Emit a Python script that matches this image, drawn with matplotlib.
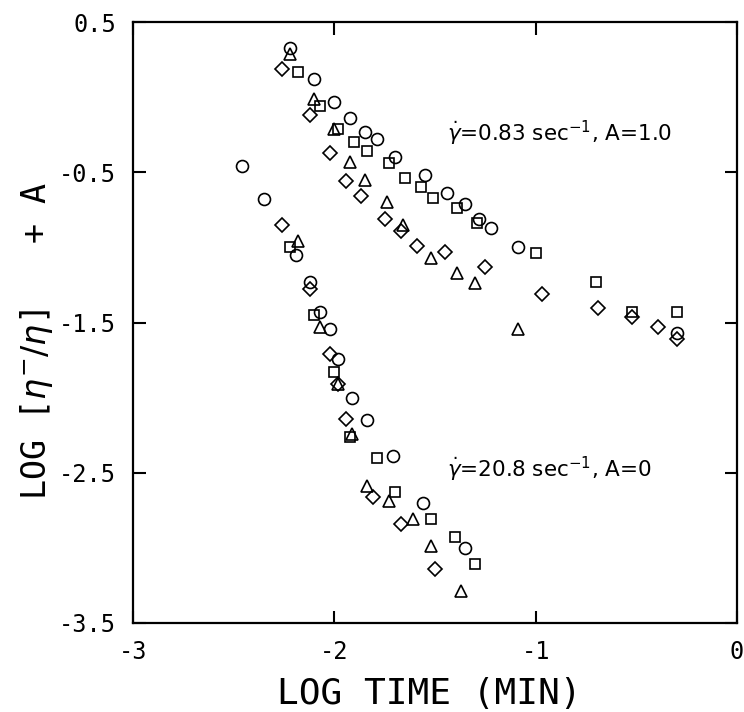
"""Stress relaxation data: LOG [eta-/eta] + A versus LOG TIME, two shear rates."""

import matplotlib

matplotlib.use("Agg")
import matplotlib.pyplot as plt

# upper set: shear rate 0.83 1/s, shifted by A = 1.0
hi_circle_x = [-2.22, -2.10, -2.00, -1.92, -1.85, -1.79, -1.70, -1.55, -1.44, -1.35, -1.28, -1.22, -1.09, -0.30]
hi_circle_y = [0.33, 0.12, -0.03, -0.14, -0.23, -0.28, -0.40, -0.52, -0.64, -0.71, -0.81, -0.87, -1.00, -1.57]
hi_square_x = [-2.18, -2.07, -1.98, -1.90, -1.84, -1.73, -1.65, -1.57, -1.51, -1.39, -1.29, -1.00, -0.70, -0.52, -0.30]
hi_square_y = [0.17, -0.06, -0.21, -0.30, -0.36, -0.44, -0.54, -0.60, -0.67, -0.74, -0.84, -1.04, -1.23, -1.43, -1.43]
hi_tri_x = [-2.22, -2.10, -2.00, -1.92, -1.85, -1.74, -1.66, -1.52, -1.39, -1.30, -1.09]
hi_tri_y = [0.29, -0.01, -0.21, -0.43, -0.55, -0.70, -0.85, -1.07, -1.17, -1.24, -1.54]
hi_dia_x = [-2.26, -2.12, -2.02, -1.94, -1.87, -1.75, -1.67, -1.59, -1.45, -1.25, -0.97, -0.69, -0.52, -0.39, -0.30]
hi_dia_y = [0.19, -0.12, -0.37, -0.56, -0.66, -0.81, -0.89, -0.99, -1.03, -1.13, -1.31, -1.40, -1.46, -1.53, -1.61]

# lower set: shear rate 20.8 1/s, A = 0
lo_circle_x = [-2.46, -2.35, -2.19, -2.12, -2.07, -2.02, -1.98, -1.91, -1.84, -1.71, -1.56, -1.35]
lo_circle_y = [-0.46, -0.68, -1.05, -1.23, -1.43, -1.54, -1.74, -2.00, -2.15, -2.39, -2.70, -3.00]
lo_square_x = [-2.22, -2.10, -2.00, -1.92, -1.79, -1.70, -1.52, -1.40, -1.30]
lo_square_y = [-1.00, -1.45, -1.83, -2.26, -2.40, -2.63, -2.81, -2.93, -3.11]
lo_tri_x = [-2.18, -2.07, -1.98, -1.91, -1.84, -1.73, -1.61, -1.52, -1.37]
lo_tri_y = [-0.96, -1.53, -1.91, -2.24, -2.59, -2.69, -2.81, -2.99, -3.29]
lo_dia_x = [-2.26, -2.12, -2.02, -1.98, -1.94, -1.81, -1.67, -1.50]
lo_dia_y = [-0.85, -1.28, -1.71, -1.91, -2.14, -2.66, -2.84, -3.14]

x_ticks = [-3, -2, -1, 0]
y_ticks = [0.5, -0.5, -1.5, -2.5, -3.5]

plt.rcParams["axes.unicode_minus"] = False
plt.rcParams["mathtext.fontset"] = "dejavusans"

fig = plt.figure(figsize=(7.44, 7.12), dpi=100)
ax = fig.add_axes([0.1788, 0.125, 0.8118, 0.844])

mk = dict(linestyle="none", markerfacecolor="none", markeredgecolor="black",
          markeredgewidth=1.2)
for xs, ys in [(hi_circle_x, hi_circle_y), (lo_circle_x, lo_circle_y)]:
    ax.plot(xs, ys, marker="o", markersize=8.6, **mk)
for xs, ys in [(hi_square_x, hi_square_y), (lo_square_x, lo_square_y)]:
    ax.plot(xs, ys, marker="s", markersize=7.8, **mk)
for xs, ys in [(hi_tri_x, hi_tri_y), (lo_tri_x, lo_tri_y)]:
    ax.plot(xs, ys, marker="^", markersize=8.0, **mk)
for xs, ys in [(hi_dia_x, hi_dia_y), (lo_dia_x, lo_dia_y)]:
    ax.plot(xs, ys, marker="D", markersize=7.4, **mk)

ax.set_xlim(-3, 0)
ax.set_ylim(-3.5, 0.5)
ax.set_xticks(x_ticks)
ax.set_yticks(y_ticks)
ax.set_xticklabels([str(t) for t in x_ticks], family="DejaVu Sans Mono", fontsize=17)
ax.set_yticklabels([f"{t:.1f}" for t in y_ticks], family="DejaVu Sans Mono", fontsize=17)
ax.tick_params(direction="in", length=9, width=1.5, top=True, right=True, pad=12)
for sp in ax.spines.values():
    sp.set_linewidth(1.6)

ax.set_xlabel("LOG TIME (MIN)", family="DejaVu Sans Mono", fontsize=26)
ax.xaxis.set_label_coords(0.49, -0.09)
ax.set_ylabel(r"LOG [$\eta^{-}/\eta$]   + A", family="DejaVu Sans Mono", fontsize=24)
ax.yaxis.set_label_coords(-0.130, 0.47)

ax.text(-1.44, -0.24, r"$\dot{\gamma}$=0.83 sec$^{-1}$, A=1.0", fontsize=15.5,
        va="center", ha="left")
ax.text(-1.44, -2.48, r"$\dot{\gamma}$=20.8 sec$^{-1}$, A=0", fontsize=15.5,
        va="center", ha="left")

fig.savefig("out.png", dpi=100)
plt.close(fig)
